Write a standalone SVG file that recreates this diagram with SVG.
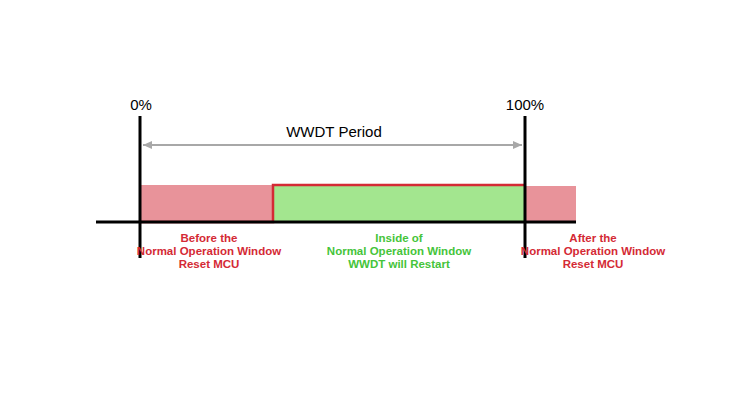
<svg xmlns="http://www.w3.org/2000/svg" width="737" height="400" viewBox="0 0 737 400">
<style>
text{font-family:"Liberation Sans",Arial,sans-serif;text-anchor:middle}
.lbl{font-size:11.5px;font-weight:bold}
.red{fill:#d42a35}.grn{fill:#45c43a}
.big{font-size:15px;fill:#000}
</style>
<defs><marker id="ah" markerWidth="10" markerHeight="10" refX="9" refY="5" orient="auto-start-reverse" markerUnits="userSpaceOnUse"><path d="M0,1 L9,5 L0,9 Z" fill="#a8a8a8"/></marker></defs>
<rect width="737" height="400" fill="#fff"/>
<g id="before"><rect x="141" y="185" width="132" height="37" fill="#e8939a"/></g>
<g id="after"><rect x="525" y="186" width="51" height="36" fill="#e8939a"/></g>
<g id="inside"><rect x="273" y="185" width="252" height="37" fill="#a3e68f"/></g>
<g id="connectors">
<path d="M141,222 H273 V185 H525" fill="none" stroke="#d42a35" stroke-width="2.5"/>
<line x1="96" y1="222" x2="576" y2="222" stroke="#000" stroke-width="3"/>
<line x1="140" y1="116" x2="140" y2="258" stroke="#000" stroke-width="3"/>
<line x1="525" y1="116" x2="525" y2="258" stroke="#000" stroke-width="3"/>
<line x1="143" y1="145" x2="522" y2="145" stroke="#a8a8a8" stroke-width="2" marker-start="url(#ah)" marker-end="url(#ah)"/>
</g>
<g id="labels">
<text x="141" y="110" class="big">0%</text>
<text x="525" y="110" class="big">100%</text>
<text x="334" y="137" class="big">WWDT Period</text>
<text class="lbl red" x="209" y="242">Before the</text>
<text class="lbl red" x="209" y="255">Normal Operation Window</text>
<text class="lbl red" x="209" y="268">Reset MCU</text>
<text class="lbl grn" x="399" y="242">Inside of</text>
<text class="lbl grn" x="399" y="255">Normal Operation Window</text>
<text class="lbl grn" x="399" y="268">WWDT will Restart</text>
<text class="lbl red" x="593" y="242">After the</text>
<text class="lbl red" x="593" y="255">Normal Operation Window</text>
<text class="lbl red" x="593" y="268">Reset MCU</text>
</g>
</svg>
